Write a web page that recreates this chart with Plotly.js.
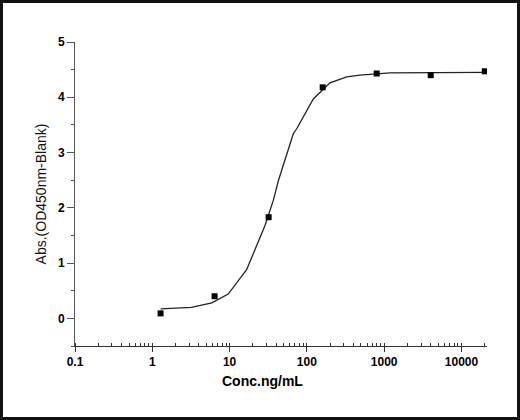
<!DOCTYPE html>
<html>
<head>
<meta charset="utf-8">
<script src="https://cdn.plot.ly/plotly-3.0.1.min.js"></script>
<style>
  body { margin: 0; background: #fff; }
  #chart { width: 520px; height: 420px; }
  #frame {
    position: absolute; left: 0; top: 0; width: 520px; height: 420px;
    box-sizing: border-box; border: 3px solid #111; pointer-events: none;
  }
</style>
</head>
<body>
<div id="chart"></div>
<div id="frame"></div>
<script>
// measured points
const conc = [1.28, 6.4, 32, 160, 800, 4000, 20000];
const absorb = [0.09, 0.40, 1.83, 4.18, 4.43, 4.40, 4.47];

// fitted curve
const fitConc = [1.28, 3.2, 5.9, 9.6, 16.6, 21.3, 28.7, 36.7, 42.7, 66.7, 73.8, 121, 199, 327, 486, 1190, 20000];
const fitAbs  = [0.17, 0.20, 0.28, 0.44, 0.88, 1.23, 1.68, 2.13, 2.49, 3.34, 3.43, 3.97, 4.26, 4.37, 4.40, 4.44, 4.45];

const xTickVals = [0.1, 1, 10, 100, 1000, 10000];
const xTickText = ['0.1', '1', '10', '100', '1000', '10000'];

const FONT = 'Liberation Sans, Arial, sans-serif';

Plotly.newPlot('chart', [{
  x: fitConc, y: fitAbs,
  type: 'scatter', mode: 'lines',
  line: { color: '#222', width: 1.3 },
  hoverinfo: 'skip',
}, {
  x: conc, y: absorb,
  type: 'scatter', mode: 'markers',
  marker: { symbol: 'square', size: 6, color: '#000' },
}], {
  width: 520, height: 420,
  margin: { l: 75, r: 33, t: 42, b: 74 },
  paper_bgcolor: '#fff', plot_bgcolor: '#fff',
  showlegend: false,
  font: { family: FONT, color: '#000' },
  xaxis: {
    type: 'log',
    range: [-1, 4.33],
    tickmode: 'array', tickvals: xTickVals, ticktext: xTickText,
    ticks: 'outside', ticklen: 5, tickwidth: 1, tickcolor: '#333',
    minor: { dtick: 'D1', ticks: 'inside', ticklen: 3, tickcolor: '#333', showgrid: false },
    showline: true, linecolor: '#333', linewidth: 1,
    showgrid: false, zeroline: false,
    tickfont: { family: FONT, size: 12, weight: 'bold' },
  },
  yaxis: {
    range: [-0.5, 5],
    tickmode: 'linear', tick0: 0, dtick: 1,
    ticks: 'outside', ticklen: 7, tickwidth: 1, tickcolor: '#555',
    minor: { dtick: 0.5, ticks: 'outside', ticklen: 3, tickcolor: '#555', showgrid: false },
    showline: true, linecolor: '#555', linewidth: 1,
    showgrid: false, zeroline: false,
    tickfont: { family: FONT, size: 12, weight: 'bold' },
    title: { text: 'Abs.(OD450nm-Blank)', standoff: 8, font: { family: FONT, size: 14, color: '#111' } },
  },
  annotations: [{
    xref: 'paper', yref: 'paper', x: 0.456, y: -0.116,
    text: 'Conc.ng/mL', showarrow: false,
    xanchor: 'center', yanchor: 'middle',
    font: { family: FONT, size: 14, weight: 'bold', color: '#000' },
  }],
}, { displayModeBar: false, staticPlot: true });
</script>
</body>
</html>
